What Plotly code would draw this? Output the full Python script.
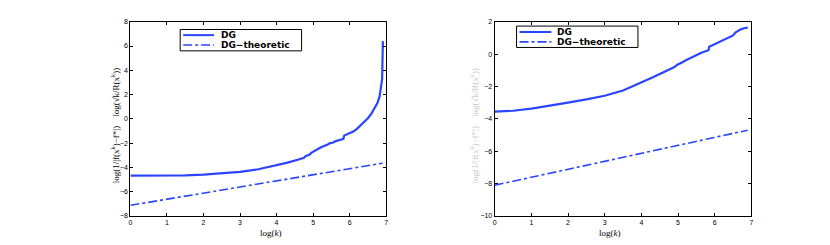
import plotly.graph_objects as go

# ---- data ----
x_left_dg = [0, 0.5, 1, 1.5, 2, 2.5, 3, 3.5, 4, 4.3, 4.6, 4.75, 4.8, 4.9, 4.95, 5.0, 5.05, 5.12, 5.18,
             5.25, 5.3, 5.4, 5.45, 5.55, 5.6, 5.7, 5.75, 5.83, 5.85, 5.9, 6.0, 6.1, 6.2, 6.3, 6.4,
             6.5, 6.6, 6.7, 6.76, 6.82, 6.86, 6.89, 6.9, 6.91]
y_left_dg = [-4.68, -4.68, -4.67, -4.65, -4.6, -4.5, -4.36, -4.15, -3.82, -3.6, -3.35, -3.2, -3.05, -2.95,
             -2.8, -2.7, -2.6, -2.5, -2.4, -2.3, -2.25, -2.12, -2.02, -1.95, -1.85, -1.8, -1.72, -1.65, -1.38,
             -1.3, -1.2, -1.05, -0.82, -0.55, -0.25, 0.05, 0.45, 0.95, 1.3, 1.85, 2.5, 3.3, 5.0, 6.4]
x_left_th = [0, 6.9]
y_left_th = [-7.12, -3.65]

x_right_dg = [0, 0.5, 1, 1.5, 2, 2.5, 3, 3.5, 4, 4.3, 4.66, 4.75, 4.8, 4.9, 4.98, 5.05, 5.12, 5.2, 5.25,
              5.3, 5.4, 5.48, 5.57, 5.65, 5.75, 5.83, 5.85, 5.9, 6.02, 6.2, 6.39, 6.5, 6.57, 6.7, 6.8, 6.9]
y_right_dg = [-3.55, -3.5, -3.37, -3.2, -3.0, -2.8, -2.57, -2.25, -1.78, -1.45, -1.06, -0.98, -0.9, -0.8,
              -0.66, -0.6, -0.5, -0.4, -0.34, -0.3, -0.2, -0.1, 0.04, 0.1, 0.18, 0.24, 0.45, 0.5, 0.64,
              0.8, 1.0, 1.15, 1.34, 1.52, 1.6, 1.64]
x_right_th = [0, 6.9]
y_right_th = [-8.1, -4.7]

x_ticks = [0, 1, 2, 3, 4, 5, 6, 7]
y_ticks_left = [-8, -6, -4, -2, 0, 2, 4, 6, 8]
y_ticks_right = [-10, -8, -6, -4, -2, 0, 2]
series_names = ["DG", "DG\u2212theoretic"]

BLUE = "#2a45ff"
W, H = 830, 245
OFF = 8  # page body margin


def px(x):
    return (x - OFF) / W


def py(y):
    return 1 - (y - OFF) / H


fig = go.Figure()
fig.add_trace(go.Scatter(x=x_left_dg, y=y_left_dg, mode="lines", name=series_names[0],
                         line=dict(color=BLUE, width=2.2), xaxis="x", yaxis="y"))
fig.add_trace(go.Scatter(x=x_left_th, y=y_left_th, mode="lines", name=series_names[1],
                         line=dict(color=BLUE, width=1.6, dash="dashdot"), xaxis="x", yaxis="y"))
fig.add_trace(go.Scatter(x=x_right_dg, y=y_right_dg, mode="lines", name=series_names[0],
                         line=dict(color=BLUE, width=2.2), xaxis="x2", yaxis="y2"))
fig.add_trace(go.Scatter(x=x_right_th, y=y_right_th, mode="lines", name=series_names[1],
                         line=dict(color=BLUE, width=1.6, dash="dashdot"), xaxis="x2", yaxis="y2"))

ydom = [py(218), py(18)]
axis_common = dict(showline=True, linecolor="black", linewidth=1, mirror="ticks", ticks="inside",
                   ticklen=3, tickcolor="black", showgrid=False, zeroline=False,
                   tickfont=dict(family="Liberation Sans, Arial", size=7, color="black"))

fig.update_layout(
    width=W, height=H, margin=dict(l=0, r=0, t=0, b=0),
    paper_bgcolor="white", plot_bgcolor="white", showlegend=False,
    xaxis=dict(domain=[px(129), px(386)], range=[0, 7], tickvals=x_ticks, anchor="y", **axis_common),
    yaxis=dict(domain=ydom, range=[-8, 8], tickvals=y_ticks_left, anchor="x", **axis_common),
    xaxis2=dict(domain=[px(495), px(753)], range=[0, 7], tickvals=x_ticks, anchor="y2", **axis_common),
    yaxis2=dict(domain=ydom, range=[-10, 2], tickvals=y_ticks_right, anchor="x2", **axis_common),
)

# ---- hand-drawn legends (box, line samples, labels) ----
legends = [
    dict(box=(179, 26, 301, 48), rows=(31.8, 42), line=(182, 213), text_x=218),
    dict(box=(517, 22.5, 639, 44.5), rows=(28.5, 38.8), line=(520, 552), text_x=556),
]
for lg in legends:
    x0, y0, x1, y1 = lg["box"]
    fig.add_shape(type="rect", xref="paper", yref="paper", x0=px(x0), x1=px(x1), y0=py(y1), y1=py(y0),
                  line=dict(color="black", width=1), fillcolor="white", layer="above")
    for i, ry in enumerate(lg["rows"]):
        fig.add_shape(type="line", xref="paper", yref="paper", x0=px(lg["line"][0]), x1=px(lg["line"][1]),
                      y0=py(ry), y1=py(ry), layer="above",
                      line=dict(color=BLUE, width=2 if i == 0 else 1.6, dash="solid" if i == 0 else "dashdot"))
        fig.add_annotation(xref="paper", yref="paper", x=px(lg["text_x"]), y=py(ry), xanchor="left",
                           yanchor="middle", text="<b>%s</b>" % series_names[i], showarrow=False,
                           font=dict(family="DejaVu Sans", size=9, color="black"))

ylabel = "log(1/|f(x<sup>k</sup>)\u2212f*|)    log(\u221Ak/R(x<sup>k</sup>))"
for cx in (257, 624):
    fig.add_annotation(xref="paper", yref="paper", x=px(cx), y=py(235), text="log(<i>k</i>)", showarrow=False,
                       yanchor="middle", font=dict(family="Liberation Serif, DejaVu Serif", size=9, color="black"))
fig.add_annotation(xref="paper", yref="paper", x=px(105), y=py(125), text=ylabel, textangle=-90,
                   showarrow=False, font=dict(family="Liberation Serif, DejaVu Serif", size=9, color="black"))
fig.add_annotation(xref="paper", yref="paper", x=px(474), y=py(125), text=ylabel, textangle=-90,
                   showarrow=False, font=dict(family="Liberation Serif, DejaVu Serif", size=9, color="#c8c8c8"))

fig.write_html("out.html")
